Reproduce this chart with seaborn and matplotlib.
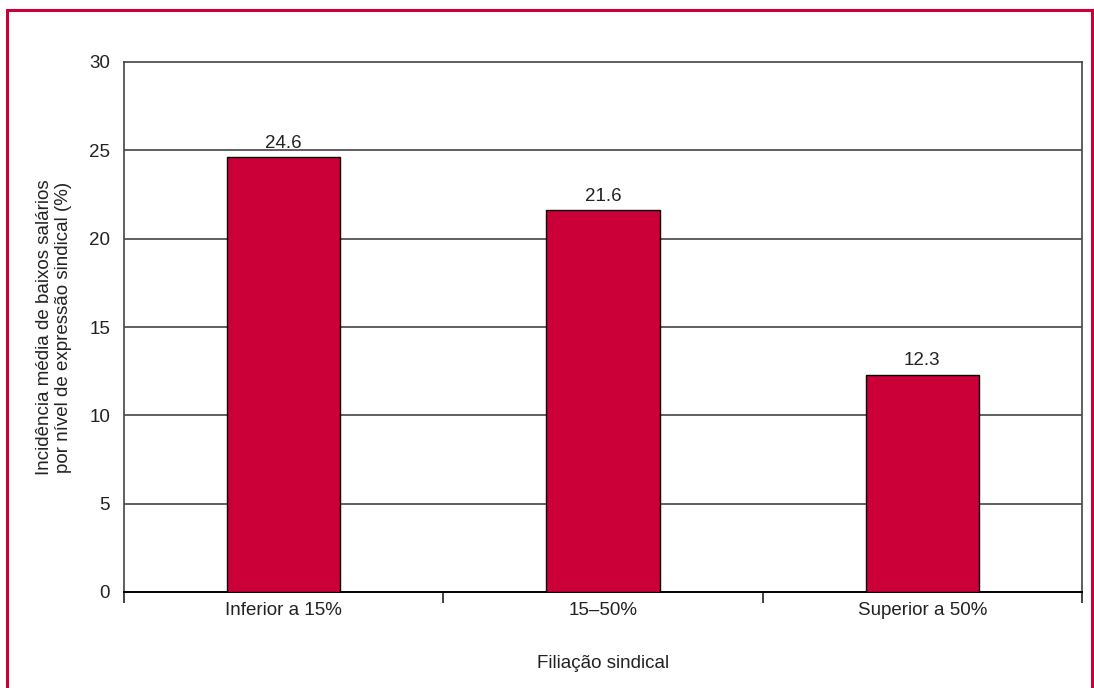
import matplotlib
matplotlib.use('Agg')
import matplotlib.pyplot as plt
import seaborn as sns
import pandas as pd
from matplotlib.patches import Rectangle

# dados
categorias = ['Inferior a 15%', '15–50%', 'Superior a 50%']
valores = [24.6, 21.6, 12.3]
yticks = [0, 5, 10, 15, 20, 25, 30]

df = pd.DataFrame({'cat': categorias, 'val': valores})

sns.set_theme(style='white')
plt.rcParams['font.family'] = ['Liberation Sans', 'DejaVu Sans']

vermelho = '#CC0038'
fs = 13.5

fig = plt.figure(figsize=(10.94, 6.88), dpi=100)
ax = fig.add_axes([124 / 1094, 1 - 592 / 688, (1082 - 124) / 1094, (592 - 62) / 688])

sns.barplot(data=df, x='cat', y='val', color=vermelho, width=0.355,
            edgecolor='black', linewidth=1.0, saturation=1, ax=ax, zorder=3)

# linhas de grelha
for t in yticks[1:-1]:
    ax.axhline(t, color='#444444', linewidth=1.2, zorder=1)

ax.set_xlim(-0.5, 2.5)
ax.set_ylim(0, 30)
ax.set_yticks(yticks)
ax.tick_params(axis='y', length=0, pad=10, labelsize=fs, colors='#222222')
ax.set_xticks([-0.5, 0.5, 1.5, 2.5], minor=False)
ax.set_xticklabels([])
ax.set_xticks([0, 1, 2], minor=True)
ax.set_xticklabels(categorias, minor=True)
ax.tick_params(axis='x', which='major', direction='out', length=8, width=1.2, color='#222222', bottom=True)
ax.tick_params(axis='x', which='minor', length=0, pad=7, labelsize=fs, labelcolor='#222222')

for s in ['left', 'top', 'right']:
    ax.spines[s].set_color('#444444')
    ax.spines[s].set_linewidth(1.2)
ax.spines['bottom'].set_color('black')
ax.spines['bottom'].set_linewidth(1.4)

# rótulos das barras
for i, v in enumerate(valores):
    ax.annotate(f'{v:.1f}', (i, v), xytext=(0, 4), textcoords='offset points',
                ha='center', va='bottom', fontsize=fs, color='#222222')

ax.set_xlabel('Filiação sindical', fontsize=fs, color='#222222', labelpad=26)
ax.set_ylabel('Incidência média de baixos salários\npor nível de expressão sindical (%)',
              fontsize=fs, color='#222222', labelpad=12)

# moldura vermelha
fig.patches.append(Rectangle((7 / 1094, -0.05), (1092 - 7) / 1094, 1.05 - 10 / 688,
                             transform=fig.transFigure, fill=False,
                             edgecolor=vermelho, linewidth=2.2))

fig.savefig('out.png', dpi=100, facecolor='white')
